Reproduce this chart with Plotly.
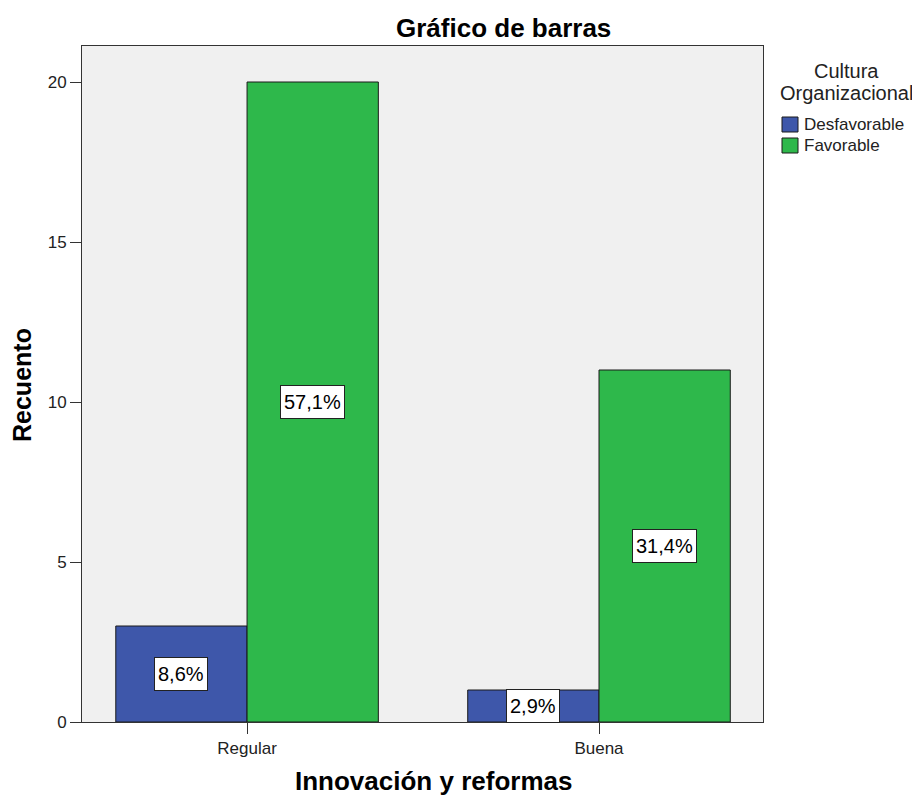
import plotly.graph_objects as go

categories = ["Regular", "Buena"]
series_names = ["Desfavorable", "Favorable"]
desfavorable = [3, 1]
favorable = [20, 11]
pct_desfavorable = ["8,6%", "2,9%"]
pct_favorable = ["57,1%", "31,4%"]
colors = ["#3E57AA", "#2EB84B"]
legend_title_lines = ["Cultura", "Organizacional"]
y_ticks = [0, 5, 10, 15, 20]

FONT = "Liberation Sans, Arial, sans-serif"

# screen-pixel geometry of plot area (page body has 8px margin)
PL, PR, PT, PB = 82, 763, 46, 722
PW, PH = PR - PL, PB - PT


def px(x):
    return (x - PL) / PW


def py(y):
    return (PB - y) / PH


fig = go.Figure()
for name, vals, col in zip(series_names, [desfavorable, favorable], colors):
    fig.add_trace(go.Bar(
        x=categories, y=vals, name=name,
        marker=dict(color=col, line=dict(color="#1a1a1a", width=1)),
        hoverinfo="skip", showlegend=False,
    ))

# percentage labels in boxes at bar middles
offsets = [-0.1865, 0.1865]
for s, (vals, labels) in enumerate(zip([desfavorable, favorable], [pct_desfavorable, pct_favorable])):
    for i, (v, lab) in enumerate(zip(vals, labels)):
        fig.add_annotation(
            x=i + offsets[s], y=v / 2, xref="x", yref="y",
            text=lab, showarrow=False, height=26,
            font=dict(family=FONT, size=20, color="#000000"),
            bgcolor="#FFFFFF", bordercolor="#222222", borderwidth=1, borderpad=3,
        )

# chart title
fig.add_annotation(
    x=px(503), y=1.0, xref="paper", yref="paper", yanchor="middle", yshift=PT - 28,
    text="<b>Gráfico de barras</b>", showarrow=False,
    font=dict(family=FONT, size=26, color="#000000"),
)
# axis titles
fig.add_annotation(
    x=px(433), y=0, xref="paper", yref="paper", yanchor="middle", xanchor="center",
    yshift=-(781 - PB),
    text="<b>Innovación y reformas</b>", showarrow=False,
    font=dict(family=FONT, size=26, color="#000000"),
)
fig.add_annotation(
    x=px(22), y=py(385), xref="paper", yref="paper", yanchor="middle", xanchor="center",
    text="<b>Recuento</b>", showarrow=False, textangle=-90,
    font=dict(family=FONT, size=25, color="#000000"),
)

# legend (drawn manually)
for line, yc in zip(legend_title_lines, [71, 93]):
    fig.add_annotation(
        x=px(846), y=py(yc), xref="paper", yref="paper", xanchor="center", yanchor="middle",
        text=line, showarrow=False,
        font=dict(family=FONT, size=20, color="#222222"),
    )
for k, (name, col) in enumerate(zip(series_names, colors)):
    top = 117 + 21 * k
    fig.add_shape(
        type="rect", xref="paper", yref="paper",
        x0=px(782), x1=px(798), y0=py(top), y1=py(top + 15),
        fillcolor=col, line=dict(color="#1a1a1a", width=1),
    )
    fig.add_annotation(
        x=px(802), y=py(top + 7.5), xref="paper", yref="paper", xanchor="left", yanchor="middle",
        text=name, showarrow=False,
        font=dict(family=FONT, size=17, color="#222222"),
    )

fig.update_layout(
    width=920, height=796,
    margin=dict(l=PL - 8, r=920 - (PR - 8), t=PT - 8, b=796 - (PB - 8)),
    paper_bgcolor="#FFFFFF", plot_bgcolor="#F0F0F0",
    barmode="group", bargap=0.254, bargroupgap=0,
    font=dict(family=FONT, color="#222222"),
    showlegend=False,
    xaxis=dict(
        type="category", range=[-0.469, 1.466],
        showline=True, linecolor="#333333", linewidth=1, mirror=True,
        ticks="outside", ticklen=11, tickcolor="#333333",
        tickfont=dict(family=FONT, size=17, color="#222222"),
        showgrid=False,
    ),
    yaxis=dict(
        range=[0, (PB - PT) / 32.0],
        tickvals=y_ticks,
        showline=True, linecolor="#333333", linewidth=1, mirror=True,
        ticks="outside", ticklen=11, tickcolor="#333333",
        tickfont=dict(family=FONT, size=17, color="#222222"),
        showgrid=False, zeroline=False,
    ),
)

fig.write_html("out.html")
